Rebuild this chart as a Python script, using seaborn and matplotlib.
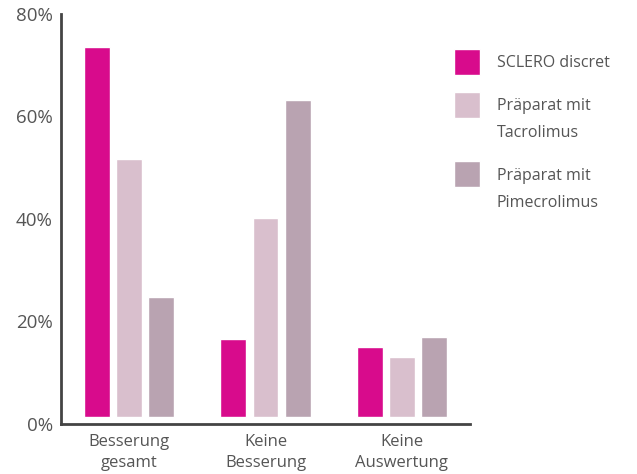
import numpy as np
import pandas as pd
import matplotlib
matplotlib.use("Agg")
import matplotlib.pyplot as plt
import seaborn as sns
from matplotlib.ticker import MultipleLocator, FixedLocator, PercentFormatter

kategorien = ["Besserung\ngesamt", "Keine\nBesserung", "Keine\nAuswertung"]
serien = ["SCLERO discret", "Präparat mit\nTacrolimus", "Präparat mit\nPimecrolimus"]
sclero = [73.5, 16.5, 15.0]
tacrolimus = [51.7, 40.1, 13.1]
pimecrolimus = [24.7, 63.2, 17.0]
farben = ["#D80B8C", "#D9BFCD", "#B9A3B1"]

df = pd.DataFrame({
    "Kategorie": kategorien * 3,
    "Serie": np.repeat(serien, 3),
    "Wert": sclero + tacrolimus + pimecrolimus,
})

sns.set_style("white")
plt.rcParams["font.family"] = ["Open Sans", "DejaVu Sans"]

textfarbe = "#555555"
achsfarbe = "#444444"

fig = plt.figure(figsize=(6.37, 4.74), dpi=100)
ax = fig.add_axes([0.0958, 0.1055, 0.642, 0.865])

sns.barplot(
    data=df,
    x="Kategorie",
    y="Wert",
    hue="Serie",
    palette=farben,
    width=0.706,
    gap=0.19,
    saturation=1,
    errorbar=None,
    ax=ax,
)

# kleiner Abstand der Balken zur x-Achse wie im Original
abstand = 1.4
for p in ax.patches:
    h = p.get_height()
    if h > 0:
        p.set_y(abstand)
        p.set_height(h - abstand)

ax.set_xlim(-0.5, 2.5)
ax.set_ylim(0, 80)
ax.yaxis.set_major_locator(MultipleLocator(20))
ax.yaxis.set_minor_locator(MultipleLocator(10))
ax.yaxis.set_major_formatter(PercentFormatter(decimals=0))
ax.xaxis.set_minor_locator(FixedLocator([0.5, 1.5]))

for side in ["top", "right"]:
    ax.spines[side].set_visible(False)
for side in ["left", "bottom"]:
    ax.spines[side].set_color(achsfarbe)
    ax.spines[side].set_linewidth(2.0)

ax.tick_params(axis="y", which="both", direction="in", length=7, width=2.0,
               color=achsfarbe, labelsize=13.5, labelcolor=textfarbe, pad=6)
ax.tick_params(axis="x", which="major", length=0, labelsize=12,
               labelcolor=textfarbe, pad=7)
ax.tick_params(axis="x", which="minor", direction="in", length=7, width=2.0,
               color=achsfarbe)

ax.set_xlabel("")
ax.set_ylabel("")
for lbl in ax.get_xticklabels():
    lbl.set_linespacing(1.45)

leg = ax.legend(
    loc="upper left",
    bbox_to_anchor=(0.961, 0.899),
    frameon=False,
    fontsize=11.5,
    labelcolor=textfarbe,
    handlelength=1.62,
    handleheight=0.7,
    handletextpad=1.05,
    labelspacing=1.68,
    borderaxespad=0,
    borderpad=0,
)
for t in leg.get_texts():
    t.set_linespacing(1.9)
# Kästchen mittig zur ersten Textzeile
for spalte in leg._legend_handle_box.get_children():
    for zeile in spalte.get_children():
        zeile.align = "top"
for p in leg.get_patches():
    p.set_height(18.7)
    p.set_y(-6.0)

fig.savefig("out.png", dpi=100)
